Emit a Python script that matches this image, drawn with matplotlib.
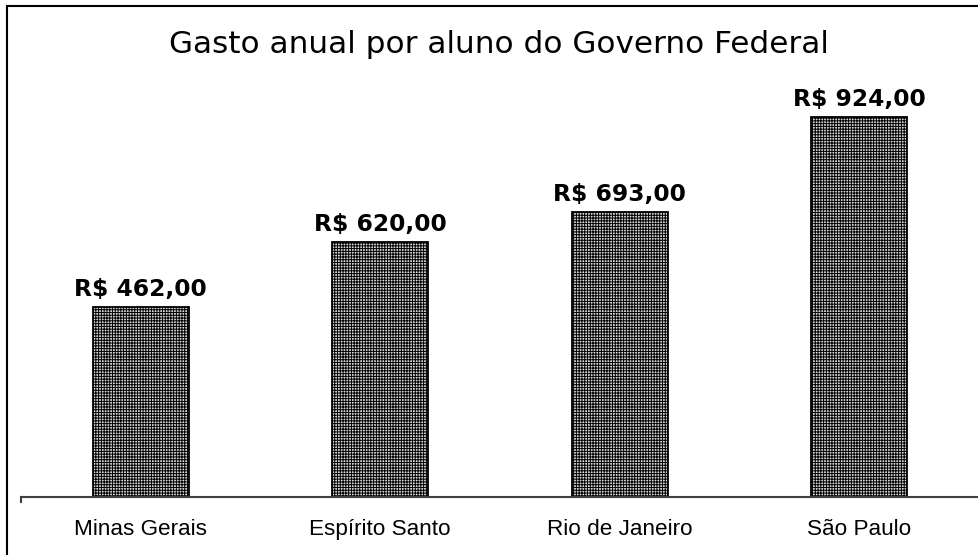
import matplotlib
matplotlib.use("Agg")
import matplotlib.pyplot as plt
from matplotlib.patches import Rectangle

categories = ["Minas Gerais", "Espírito Santo", "Rio de Janeiro", "São Paulo"]
values = [462, 620, 693, 924]
labels = ["R$ 462,00", "R$ 620,00", "R$ 693,00", "R$ 924,00"]
title = "Gasto anual por aluno do Governo Federal"

plt.rcParams['hatch.linewidth'] = 0.7
plt.rcParams['hatch.color'] = 'black'

W, H = 979, 555
fig = plt.figure(figsize=(W / 100, H / 100), dpi=100)
ax = fig.add_axes([21 / W, 1 - 497 / H, (979 - 21) / W, (497 - 86) / H])

x = list(range(len(categories)))
bars = ax.bar(x, values, width=0.4, facecolor='#d4d4d4', edgecolor='black',
              linewidth=1.3, hatch='++++++')
ax.set_xlim(-0.5, len(categories) - 0.5)
ax.set_ylim(0, 1000)

for xi, v, lab in zip(x, values, labels):
    ax.annotate(lab, (xi, v), xytext=(0, 8), textcoords='offset points',
                ha='center', va='baseline', fontsize=16.8,
                fontweight='bold', family='DejaVu Sans')

ax.set_xticks(x)
ax.set_xticklabels(categories, family='Liberation Sans', fontsize=16.2)
ax.tick_params(axis='x', length=0, pad=16)
ax.set_yticks([])
for s in ['top', 'right', 'left']:
    ax.spines[s].set_visible(False)
ax.spines['bottom'].set_color('#404040')
ax.spines['bottom'].set_linewidth(1.5)
ax.plot([-0.5, -0.5], [0, -12], color='#404040', lw=1.5, clip_on=False)

fig.text(499 / W, 1 - 53 / H, title, ha='center', va='baseline', fontsize=22.4,
         family='DejaVu Sans')

fig.patches.append(Rectangle((7.5 / W, -0.02), 1.1, 1 - 5.5 / H + 0.02,
                             transform=fig.transFigure, fill=False,
                             edgecolor='black', linewidth=1.5))

fig.savefig("out.png", dpi=100)
